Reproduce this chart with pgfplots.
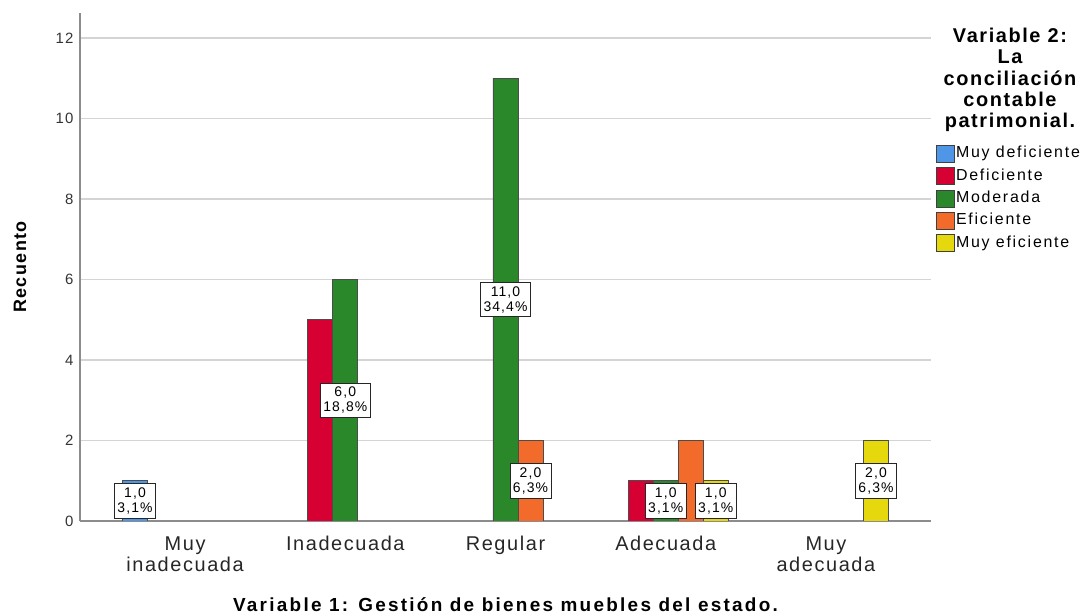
\documentclass[border=0pt]{standalone}
\usepackage{pgfplots}
\pgfplotsset{compat=1.18}
\usepackage{fontspec}
\setmainfont{Liberation Sans}[LetterSpace=8]
\newfontfamily\widefont{Liberation Sans}[LetterSpace=12]
\newfontfamily\legfont{Liberation Sans}[LetterSpace=11]
\definecolor{cblue}{HTML}{5096E6}
\definecolor{cred}{HTML}{D60032}
\definecolor{cgreen}{HTML}{2A872A}
\definecolor{corange}{HTML}{F26B2A}
\definecolor{cyellow}{HTML}{E5D80C}
\definecolor{axgray}{HTML}{8C8C8C}
\definecolor{gridgray}{HTML}{D4D4D4}
\tikzset{lbl/.style={draw=black!85, fill=white, align=center, font=\fontsize{14}{15}\selectfont, inner xsep=3bp, inner ysep=4bp, line width=0.8bp}}
\begin{document}
\begin{tikzpicture}
\path[use as bounding box] (0,0) rectangle (1084bp,616bp);
\begin{axis}[
  at={(80bp,95bp)}, anchor=south west,
  scale only axis, width=851bp, height=508bp,
  xmin=-0.656, xmax=4.656, ymin=0, ymax=12.62,
  axis x line*=bottom, axis y line*=left,
  axis line style={axgray, line width=1.5bp},
  xtick={0,...,4},
  xticklabels={{Muy\\inadecuada},Inadecuada,Regular,Adecuada,{Muy\\adecuada}},
  xticklabel style={align=center, font=\fontsize{20}{21}\selectfont, text=black!85, yshift=-12bp},
  ytick={0,2,...,12},
  yticklabel style={font=\fontsize{15}{15}\selectfont, text=black!80, xshift=-3bp},
  /pgf/number format/assume math mode=true,
  major tick length=0pt,
  ymajorgrids, grid style={gridgray, line width=1.5bp},
  xlabel={\widefont\bfseries Variable 1: Gestión de bienes muebles del estado.},
  ylabel={\bfseries Recuento},
  every axis x label/.style={at={(axis description cs:0.5,-0.165)}, anchor=center, font=\fontsize{19}{19}\selectfont},
  every axis y label/.style={at={(axis description cs:-0.0705,0.5)}, anchor=center, rotate=90, font=\fontsize{18}{18}\selectfont},
  legend style={at={(axis description cs:1.006,0.741)}, anchor=north west, draw=none, fill=none,
    font=\legfont\fontsize{16}{16}\selectfont, row sep=4.6bp, inner sep=0pt,
    nodes={inner sep=1bp, text height=11bp, text depth=3bp}},
  legend cell align=left,
  legend image code/.code={\draw[#1, draw=black!75, line width=0.8bp] (0bp,-8.5bp) rectangle (18bp,8.5bp);},
]
\addplot[ybar, bar width=0.15625, bar shift=-0.3125, fill=cblue, draw=black!70, line width=0.8bp] coordinates {(0,1)};
\addplot[ybar, bar width=0.15625, bar shift=-0.15625, fill=cred, draw=black!70, line width=0.8bp] coordinates {(1,5) (3,1)};
\addplot[ybar, bar width=0.15625, bar shift=0, fill=cgreen, draw=black!70, line width=0.8bp] coordinates {(1,6) (2,11) (3,1)};
\addplot[ybar, bar width=0.15625, bar shift=0.15625, fill=corange, draw=black!70, line width=0.8bp] coordinates {(2,2) (3,2)};
\addplot[ybar, bar width=0.15625, bar shift=0.3125, fill=cyellow, draw=black!70, line width=0.8bp] coordinates {(3,1) (4,2)};
\legend{Muy deficiente, Deficiente, Moderada, Eficiente, Muy eficiente}
\node[lbl] at (axis cs:-0.3125,0.5) {1,0\\3,1\%};
\node[lbl] at (axis cs:1,3) {6,0\\18,8\%};
\node[lbl] at (axis cs:2,5.5) {11,0\\34,4\%};
\node[lbl] at (axis cs:2.15625,1) {2,0\\6,3\%};
\node[lbl] at (axis cs:3,0.5) {1,0\\3,1\%};
\node[lbl] at (axis cs:3.3125,0.5) {1,0\\3,1\%};
\node[lbl] at (axis cs:4.3125,1) {2,0\\6,3\%};
\end{axis}
\node[anchor=north, align=center, inner sep=0pt, font=\bfseries\fontsize{20}{21.3}\selectfont] at (1010bp,588bp) {Variable 2:\\La\\conciliación\\contable\\patrimonial.};
\end{tikzpicture}
\end{document}
